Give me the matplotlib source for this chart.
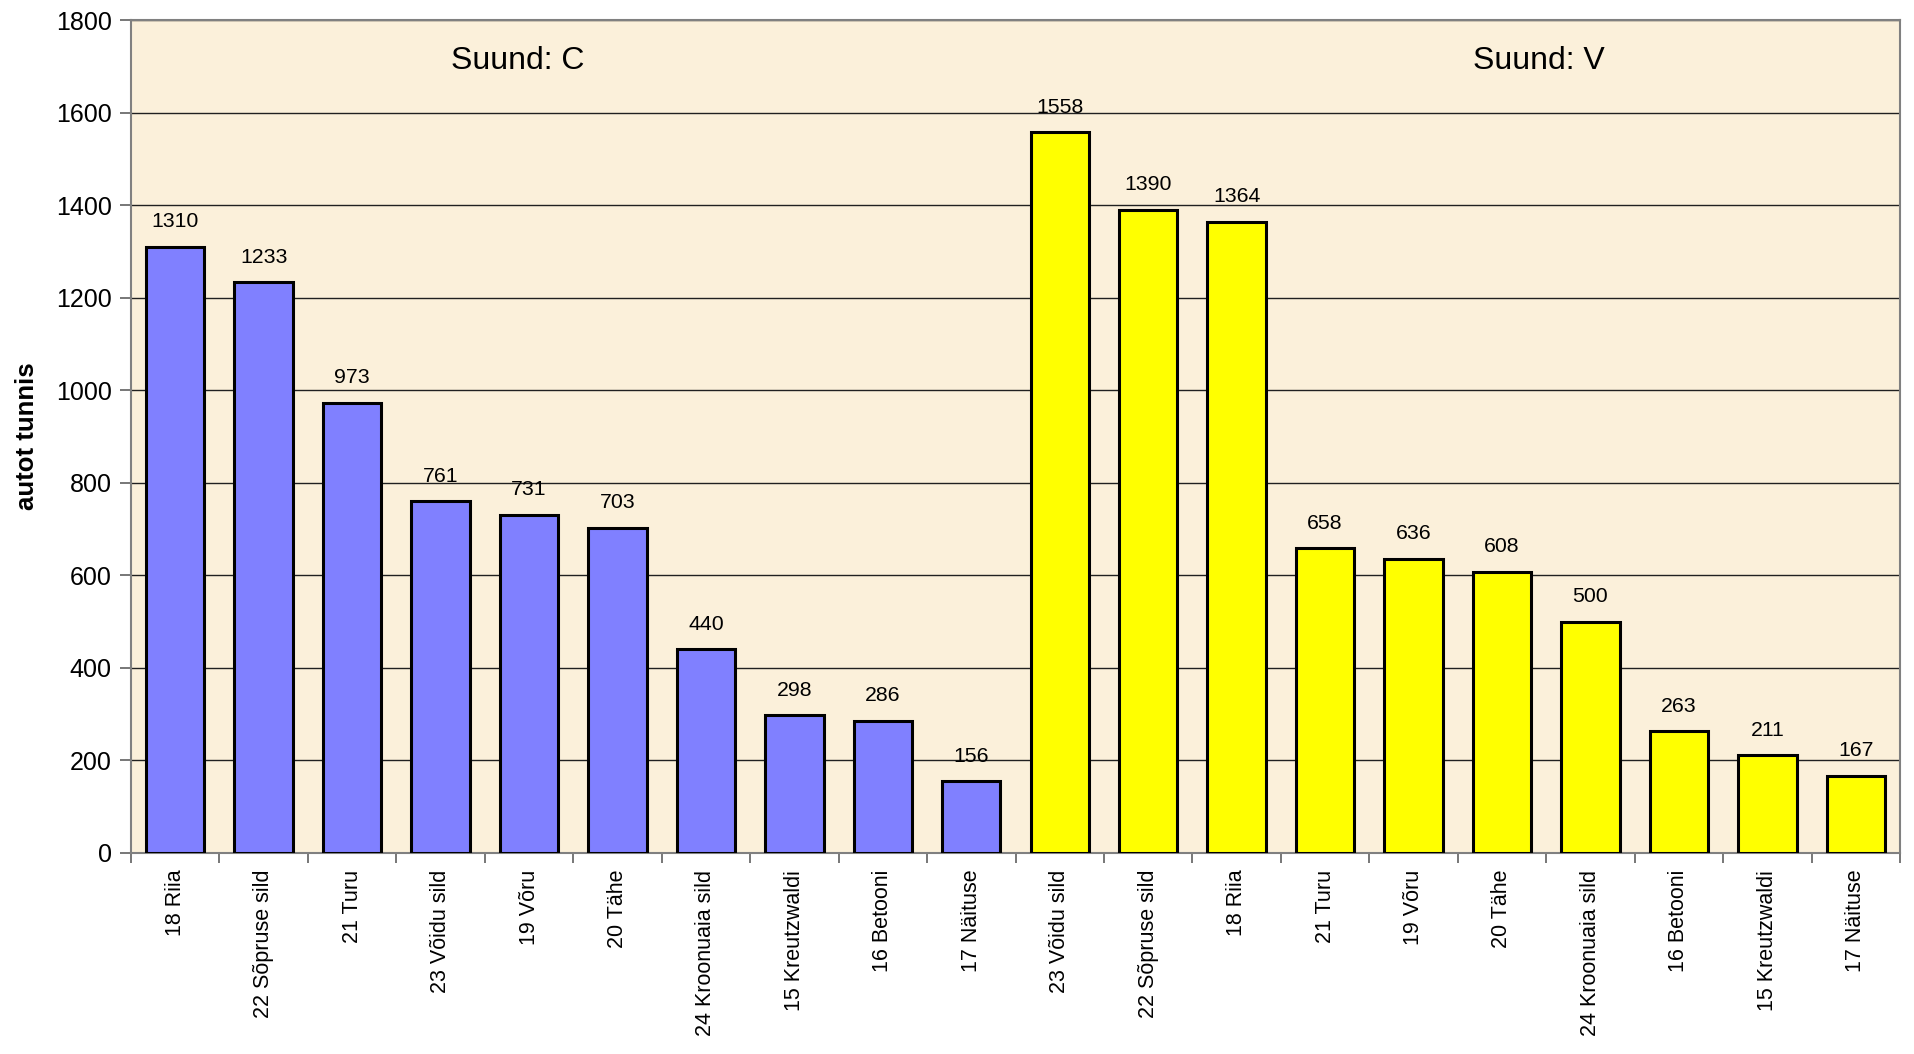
import matplotlib
matplotlib.use("Agg")
import matplotlib.pyplot as plt
import numpy as np

plt.rcParams['font.family'] = ['Liberation Sans', 'DejaVu Sans']

cats_c = ["18 Riia", "22 Sõpruse sild", "21 Turu", "23 Võidu sild", "19 Võru",
          "20 Tähe", "24 Kroonuaia sild", "15 Kreutzwaldi", "16 Betooni", "17 Näituse"]
vals_c = [1310, 1233, 973, 761, 731, 703, 440, 298, 286, 156]
cats_v = ["23 Võidu sild", "22 Sõpruse sild", "18 Riia", "21 Turu", "19 Võru",
          "20 Tähe", "24 Kroonuaia sild", "16 Betooni", "15 Kreutzwaldi", "17 Näituse"]
vals_v = [1558, 1390, 1364, 658, 636, 608, 500, 263, 211, 167]
yticks = [0, 200, 400, 600, 800, 1000, 1200, 1400, 1600, 1800]
group_titles = ["Suund: C", "Suund: V"]

fig = plt.figure(figsize=(19.14, 10.54), dpi=100)
ax = fig.add_axes([131/1914, 1-853/1054, (1900-131)/1914, (853-20)/1054])
ax.set_facecolor('#FBF0DA')

cats = cats_c + cats_v
vals = vals_c + vals_v
colors = ['#8080FF'] * len(vals_c) + ['#FFFF00'] * len(vals_v)
x = np.arange(len(cats))
bars = ax.bar(x, vals, width=0.66, color=colors, edgecolor='black', linewidth=2.2, zorder=3)
for xi, v in zip(x, vals):
    ax.annotate(str(v), (xi, v), xytext=(0, 11), textcoords='offset points',
                ha='center', va='bottom', fontsize=15.3, color='black', zorder=4)

ax.set_xlim(-0.5, len(cats) - 0.5)
ax.set_ylim(0, 1800)
ax.set_yticks(yticks)
ax.set_yticklabels([str(t) for t in yticks], fontsize=18)
ax.yaxis.grid(True, color='#202020', linewidth=1.0, zorder=1)
ax.set_axisbelow(True)

# category labels centered on bars, ticks at boundaries
ax.set_xticks(x)
ax.set_xticklabels(cats, rotation=90, fontsize=15.5, va='top', ha='center')
ax.tick_params(axis='x', length=0, pad=12)
ax.set_xticks(np.arange(len(cats) + 1) - 0.5, minor=True)
ax.tick_params(axis='x', which='minor', length=7, color='#606060', width=1.2)
ax.tick_params(axis='y', length=8, color='#606060', width=1.2, pad=6)

for s in ax.spines.values():
    s.set_color('#808080')
    s.set_linewidth(1.5)

ax.set_ylabel("autot tunnis", fontsize=18.5, fontweight='bold', labelpad=12)

ax.text(3.875, 1712, group_titles[0], ha='center', va='center', fontsize=23)
ax.text(15.42, 1712, group_titles[1], ha='center', va='center', fontsize=23)

fig.savefig("out.png", dpi=100)
